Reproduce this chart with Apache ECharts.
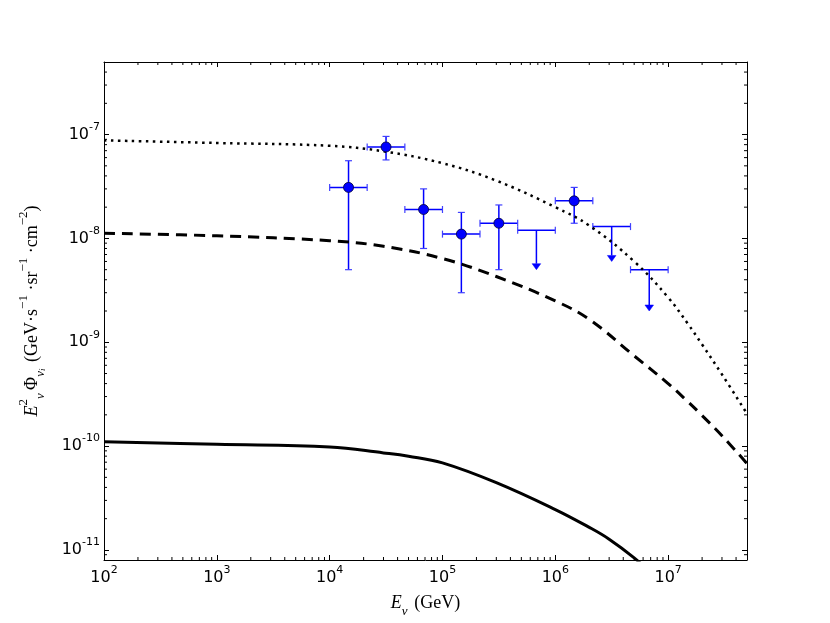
<!DOCTYPE html>
<html>
<head>
<meta charset="utf-8">
<script src="https://cdn.jsdelivr.net/npm/echarts@6/dist/echarts.min.js"></script>
<style>
html, body { margin: 0; padding: 0; background: #fff; }
#chart { width: 830px; height: 623px; }
</style>
</head>
<body>
<div id="chart"></div>
<script>
// model curves, E (GeV) against E^2 Phi
var curveEnergy = [1e2, 1e3, 1e4, 3e4, 1e5, 3e5, 1e6, 2e6, 5e6, 1e7, 1.5e7, 2e7, 3e7, 5e7];
var dottedFlux = [8.8e-8, 8.3e-8, 7.8e-8, 6.9e-8, 5.3e-8, 3.6e-8, 2.0e-8, 1.33e-8, 6.0e-9, 2.7e-9, 1.5e-9, 9.5e-10, 4.9e-10, 2.05e-10];
var dashedFlux = [1.12e-8, 1.06e-8, 9.5e-9, 8.4e-9, 6.4e-9, 4.3e-9, 2.5e-9, 1.66e-9, 7.4e-10, 4.0e-10, 2.67e-10, 1.97e-10, 1.26e-10, 6.8e-11];
var solidEnergy = [1e2, 1e3, 1e4, 3e4, 5e4, 1e5, 3e5, 1e6, 2e6, 3e6, 5e6, 7e6];
var solidFlux = [1.1e-10, 1.04e-10, 9.8e-11, 8.6e-11, 8.0e-11, 6.9e-11, 4.45e-11, 2.45e-11, 1.65e-11, 1.27e-11, 8.4e-12, 6.0e-12];

// measured points with error bars
var pointEnergy = [1.47e4, 3.16e4, 6.8e4, 1.47e5, 3.16e5, 1.47e6];
var pointELow = [1.0e4, 2.15e4, 4.64e4, 1.0e5, 2.15e5, 1.0e6];
var pointEHigh = [2.15e4, 4.64e4, 1.0e5, 2.15e5, 4.64e5, 2.15e6];
var pointFlux = [3.1e-8, 7.6e-8, 1.9e-8, 1.1e-8, 1.4e-8, 2.3e-8];
var pointFluxLow = [5.0e-9, 5.7e-8, 8.0e-9, 3.0e-9, 5.0e-9, 1.4e-8];
var pointFluxHigh = [5.6e-8, 9.6e-8, 3.0e-8, 1.78e-8, 2.1e-8, 3.1e-8];

// upper limits
var limitEnergy = [6.8e5, 3.16e6, 6.8e6];
var limitELow = [4.64e5, 2.15e6, 4.64e6];
var limitEHigh = [1.0e6, 4.64e6, 1.0e7];
var limitFlux = [1.2e-8, 1.3e-8, 5.0e-9];
var limitArrowTip = [5.0e-9, 6.0e-9, 2.0e-9];

// axis ranges
var xMin = 1e2, xMax = 5e7;
var yMin = 8e-12, yMax = 5e-7;

function zip(xs, ys) {
    var out = [];
    for (var i = 0; i < xs.length; i++) out.push([xs[i], ys[i]]);
    return out;
}

// minor ticks at 2..9 x 10^n
function minorValues(lo, hi) {
    var out = [];
    for (var e = Math.floor(Math.log10(lo)); e <= Math.ceil(Math.log10(hi)); e++) {
        for (var k = 2; k <= 9; k++) {
            var v = k * Math.pow(10, e);
            if (v > lo && v < hi) out.push(v);
        }
    }
    return out;
}
var xMinor = minorValues(xMin, xMax).map(function (v) { return [v, yMin]; });
var yMinor = minorValues(yMin, yMax).map(function (v) { return [xMin, v]; });

var tickRich = {
    b: { fontFamily: 'DejaVu Sans', fontSize: 16, color: '#000', lineHeight: 26, verticalAlign: 'middle' },
    s: { fontFamily: 'DejaVu Sans', fontSize: 11, color: '#000', lineHeight: 12, verticalAlign: 'top' }
};
function powLabel(v) {
    var e = Math.log10(v);
    if (Math.abs(e - Math.round(e)) > 1e-6) return '';
    return '{b|10}{s|' + Math.round(e) + '}';
}

var serif = 'Liberation Serif';
var nameRich = {
    i: { fontFamily: serif, fontStyle: 'italic', fontSize: 18, color: '#000', lineHeight: 30, verticalAlign: 'middle' },
    t: { fontFamily: serif, fontSize: 18, color: '#000', lineHeight: 30, verticalAlign: 'middle' },
    sup: { fontFamily: serif, fontSize: 13, color: '#000', lineHeight: 13, verticalAlign: 'top' },
    sub: { fontFamily: serif, fontStyle: 'italic', fontSize: 13, color: '#000', lineHeight: 12, verticalAlign: 'bottom' },
    ss: { fontFamily: serif, fontStyle: 'italic', fontSize: 9, color: '#000', lineHeight: 6, verticalAlign: 'bottom' }
};

function logAxis(extra) {
    var ax = {
        type: 'log',
        logBase: 10,
        axisLine: { show: true, onZero: false, lineStyle: { color: '#000', width: 1 } },
        axisTick: { show: true, inside: true, length: 5, lineStyle: { color: '#000', width: 1 } },
        splitLine: { show: false },
        minorTick: { show: false }
    };
    for (var k in extra) ax[k] = extra[k];
    return ax;
}

function renderMinorX(params, api) {
    var cs = params.coordSys;
    var p = api.coord([api.value(0), api.value(1)]);
    var st = { stroke: '#000', lineWidth: 1 };
    return { type: 'group', children: [
        { type: 'line', shape: { x1: p[0], y1: cs.y + cs.height, x2: p[0], y2: cs.y + cs.height - 3 }, style: st },
        { type: 'line', shape: { x1: p[0], y1: cs.y, x2: p[0], y2: cs.y + 3 }, style: st }
    ] };
}
function renderMinorY(params, api) {
    var cs = params.coordSys;
    var p = api.coord([api.value(0), api.value(1)]);
    var st = { stroke: '#000', lineWidth: 1 };
    return { type: 'group', children: [
        { type: 'line', shape: { x1: cs.x, y1: p[1], x2: cs.x + 3, y2: p[1] }, style: st },
        { type: 'line', shape: { x1: cs.x + cs.width, y1: p[1], x2: cs.x + cs.width - 3, y2: p[1] }, style: st }
    ] };
}

var barStyle = { stroke: '#0000ff', lineWidth: 1.5 };
var capStyle = { stroke: '#4040ff', lineWidth: 1.2 };
var cap = 3.5;

function hBarWithCaps(l, r, y) {
    return [
        { type: 'line', shape: { x1: l, y1: y, x2: r, y2: y }, style: barStyle },
        { type: 'line', shape: { x1: l, y1: y - cap, x2: l, y2: y + cap }, style: capStyle },
        { type: 'line', shape: { x1: r, y1: y - cap, x2: r, y2: y + cap }, style: capStyle }
    ];
}

function renderErrorBar(params, api) {
    var c = api.coord([api.value(0), api.value(1)]);
    var l = api.coord([api.value(2), api.value(1)]);
    var r = api.coord([api.value(3), api.value(1)]);
    var lo = api.coord([api.value(0), api.value(4)]);
    var hi = api.coord([api.value(0), api.value(5)]);
    var kids = hBarWithCaps(l[0], r[0], c[1]);
    kids.push({ type: 'line', shape: { x1: c[0], y1: hi[1], x2: c[0], y2: lo[1] }, style: barStyle });
    kids.push({ type: 'line', shape: { x1: c[0] - cap, y1: hi[1], x2: c[0] + cap, y2: hi[1] }, style: capStyle });
    kids.push({ type: 'line', shape: { x1: c[0] - cap, y1: lo[1], x2: c[0] + cap, y2: lo[1] }, style: capStyle });
    return { type: 'group', children: kids };
}

function renderLimit(params, api) {
    var c = api.coord([api.value(0), api.value(1)]);
    var l = api.coord([api.value(2), api.value(1)]);
    var r = api.coord([api.value(3), api.value(1)]);
    var tip = api.coord([api.value(0), api.value(4)]);
    var head = 6, half = 4.3;
    var kids = hBarWithCaps(l[0], r[0], c[1]);
    kids.push({ type: 'line', shape: { x1: c[0], y1: c[1], x2: c[0], y2: tip[1] - head }, style: barStyle });
    kids.push({ type: 'polygon', shape: { points: [[c[0] - half, tip[1] - head], [c[0] + half, tip[1] - head], [c[0], tip[1]]] },
        style: { fill: '#0000ff', stroke: '#0000ff', lineWidth: 0.5 } });
    return { type: 'group', children: kids };
}

var errorData = [];
for (var i = 0; i < pointEnergy.length; i++) {
    errorData.push([pointEnergy[i], pointFlux[i], pointELow[i], pointEHigh[i], pointFluxLow[i], pointFluxHigh[i]]);
}
var limitData = [];
for (var j = 0; j < limitEnergy.length; j++) {
    limitData.push([limitEnergy[j], limitFlux[j], limitELow[j], limitEHigh[j], limitArrowTip[j]]);
}

var myChart = echarts.init(document.getElementById('chart'));
var option = {
    animation: false,
    backgroundColor: '#fff',
    grid: { left: 104, right: 83, top: 62, bottom: 63, containLabel: false, outerBoundsMode: 'none' },
    xAxis: [
        logAxis({
            position: 'bottom', min: xMin, max: xMax,
            axisLabel: { margin: 5, formatter: powLabel, rich: tickRich },
            name: '{i|E}{sub|ν}  {t|(GeV)}',
            nameLocation: 'middle',
            nameGap: 28,
            nameTextStyle: { rich: nameRich }
        }),
        logAxis({ position: 'top', min: xMin, max: xMax, axisLabel: { show: false } })
    ],
    yAxis: [
        logAxis({
            position: 'left', min: yMin, max: yMax,
            axisLabel: { margin: 4, formatter: powLabel, rich: tickRich },
            name: '{i|E}{sup|2}{sub|ν} {t|Φ}{sub|ν}{ss|i}  {t|(GeV·s}{sup|−1}{t| ·sr}{sup|−1}{t| ·cm}{sup|−2}{t|)}',
            nameLocation: 'middle',
            nameRotate: 90,
            nameGap: 57,
            nameTextStyle: { rich: nameRich }
        }),
        logAxis({ position: 'right', min: yMin, max: yMax, axisLabel: { show: false } })
    ],
    series: [
        {
            type: 'line', name: 'dotted', data: zip(curveEnergy, dottedFlux),
            showSymbol: false, symbol: 'none', smooth: 0.4, clip: true,
            lineStyle: { color: '#000', width: 2.5, type: [2.5, 4.5], cap: 'butt' }
        },
        {
            type: 'line', name: 'dashed', data: zip(curveEnergy, dashedFlux),
            showSymbol: false, symbol: 'none', smooth: 0.4, clip: true,
            lineStyle: { color: '#000', width: 3, type: [11, 7], cap: 'butt' }
        },
        {
            type: 'line', name: 'solid', data: zip(solidEnergy, solidFlux),
            showSymbol: false, symbol: 'none', smooth: 0.4, clip: true,
            lineStyle: { color: '#000', width: 3 }
        },
        {
            type: 'custom', name: 'errors', data: errorData, renderItem: renderErrorBar,
            encode: { x: 0, y: 1 }, clip: true, z: 3
        },
        {
            type: 'custom', name: 'limits', data: limitData, renderItem: renderLimit,
            encode: { x: 0, y: 1 }, clip: true, z: 3
        },
        {
            type: 'scatter', name: 'points', data: zip(pointEnergy, pointFlux),
            symbol: 'circle', symbolSize: 10, z: 4,
            itemStyle: { color: '#0000ff', borderColor: '#000033', borderWidth: 0.8, opacity: 1 }
        },
        {
            type: 'custom', name: 'minorX', data: xMinor, renderItem: renderMinorX,
            encode: { x: 0, y: 1 }, silent: true, z: 5
        },
        {
            type: 'custom', name: 'minorY', data: yMinor, renderItem: renderMinorY,
            encode: { x: 0, y: 1 }, silent: true, z: 5
        }
    ]
};

myChart.setOption(option);
window.onresize = myChart.resize;
</script>
</body>
</html>
